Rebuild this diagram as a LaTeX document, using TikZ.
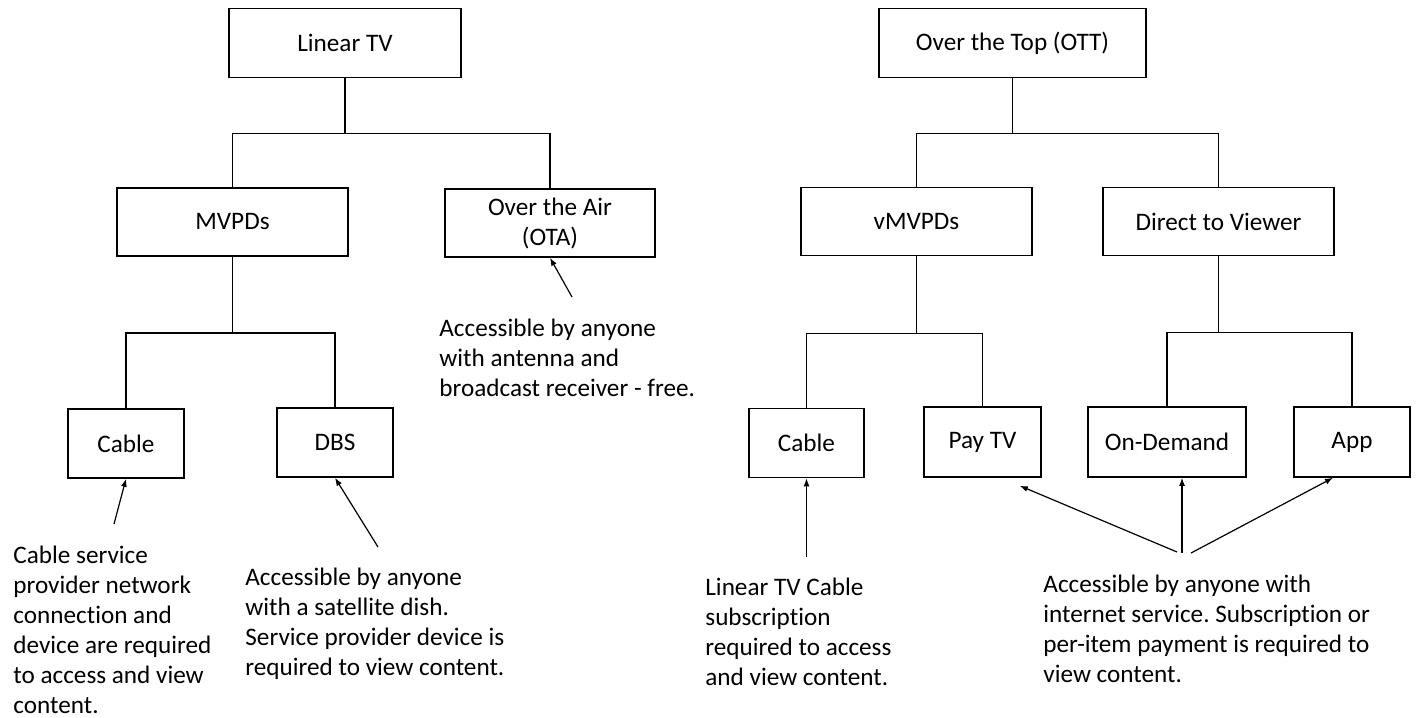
\documentclass[tikz,border=0pt]{standalone}
\usepackage{fontspec}
\setmainfont{Carlito}[Ligatures=NoCommon]
\usetikzlibrary{arrows.meta}
\frenchspacing

\begin{document}
\begin{tikzpicture}[x=0.5pt,y=-0.5pt,
    box/.style={draw, line width=0.8pt, inner sep=0pt, align=center, font=\fontsize{12.6}{15}\selectfont},
    note/.style={anchor=north west, inner sep=0pt, align=left, font=\fontsize{12.6}{15}\selectfont},
    link/.style={line width=0.8pt},
    arr/.style={-{Latex[length=4pt,width=3pt]}, line width=0.6pt}]
    \useasboundingbox (0,0) rectangle (1416,717);

    % linear tv
    \node[box, minimum width=116pt, minimum height=34.5pt] (lin) at (345,43) {Linear TV};
    \node[box, minimum width=115.5pt, minimum height=34pt] (mvpd) at (232.5,222) {MVPDs};
    \node[box, minimum width=105pt, minimum height=34pt] (ota) at (550,223) {Over the Air\\(OTA)};
    \node[box, minimum width=58pt, minimum height=34.5pt] (cab) at (126,443.5) {Cable};
    \node[box, minimum width=58pt, minimum height=34.5pt] (dbs) at (335,442.5) {DBS};

    \draw[link] (lin.south) -- ++(0,55) coordinate (linj) -| (mvpd.north);
    \draw[link] (linj) -| (ota.north);
    \draw[link] (mvpd.south) -- ++(0,76) coordinate (mvpdj) -| (cab.north);
    \draw[link] (mvpdj) -| (dbs.north);

    % over the top
    \node[box, minimum width=133.5pt, minimum height=34.5pt] (ott) at (1012.5,43) {Over the Top (OTT)};
    \node[box, minimum width=115.5pt, minimum height=34pt] (vmvpd) at (916.5,221.5) {vMVPDs};
    \node[box, minimum width=115.5pt, minimum height=34pt] (dtv) at (1218.5,221.5) {Direct to Viewer};
    \node[box, minimum width=57.5pt, minimum height=34.5pt] (cabv) at (806.5,443) {Cable};
    \node[box, minimum width=58.5pt, minimum height=35pt] (pay) at (982.5,442) {Pay TV};
    \node[box, minimum width=79pt, minimum height=35pt] (dem) at (1167,442) {On-Demand};
    \node[box, minimum width=58pt, minimum height=35pt] (app) at (1352,442) {App};

    \draw[link] (ott.south) -- ++(0,55) coordinate (ottj) -| (vmvpd.north);
    \draw[link] (ottj) -| (dtv.north);
    \draw[link] (vmvpd.south) -- ++(0,77) coordinate (vmvpdj) -| (cabv.north);
    \draw[link] (vmvpdj) -| (pay.north);
    \draw[link] (dtv.south) -- ++(0,76) coordinate (dtvj) -| (dem.north);
    \draw[link] (dtvj) -| (app.north);

    % notes
    \node[note] (cabnote) at (13,545.5) {Cable service\\provider network\\connection and\\device are required\\to access and view\\content.};
    \node[note] (dbsnote) at (245,567.5) {Accessible by anyone\\with a satellite dish.\\Service provider device is\\required to view content.};
    \node[note] (otanote) at (439,318.5) {Accessible by anyone\\with antenna and\\broadcast receiver - free.};
    \node[note] (cabvnote) at (705,577.5) {Linear TV Cable\\subscription\\required to access\\and view content.};
    \node[note] (netnote) at (1043,574.5) {Accessible by anyone with\\internet service. Subscription or\\per-item payment is required to\\view content.};

    \coordinate (cabtail) at (114,524);
    \coordinate (dbstail) at (378,547);
    \coordinate (otatail) at (572,297);
    \coordinate (cabvtail) at (806.5,557);
    \coordinate (paytail) at (1177,552);
    \coordinate (demtail) at (1182,553);
    \coordinate (apptail) at (1191,553);

    \draw[arr] (cabtail) -- (cab.south);
    \draw[arr] (dbstail) -- (dbs.south);
    \draw[arr] (otatail) -- (ota.south);
    \draw[arr] (cabvtail) -- (cabv.south);
    \draw[arr] (paytail) -- ([shift={(-22,8)}]pay.south east);
    \draw[arr] (demtail) -- ([shift={(15,0)}]dem.south);
    \draw[arr] (apptail) -- ([shift={(-19,0)}]app.south);
\end{tikzpicture}
\end{document}
